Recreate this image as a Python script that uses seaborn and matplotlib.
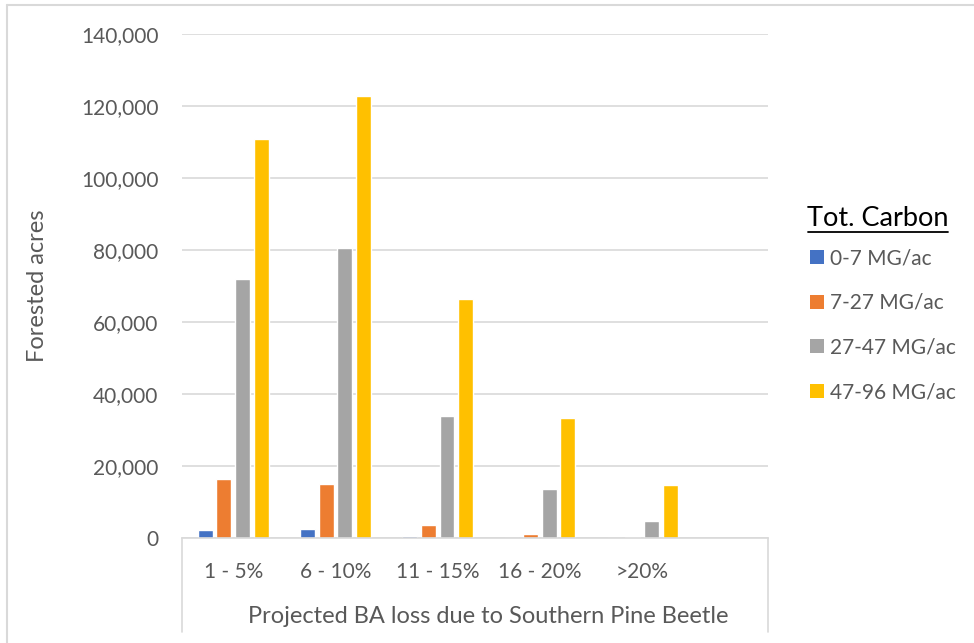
import pandas as pd
import matplotlib
matplotlib.use("Agg")
import matplotlib.pyplot as plt
import seaborn as sns
from matplotlib.lines import Line2D
from matplotlib.patches import Patch
from matplotlib.ticker import FuncFormatter

# data
loss_classes = ["1 - 5%", "6 - 10%", "11 - 15%", "16 - 20%", ">20%"]
carbon_classes = ["0-7 MG/ac", "7-27 MG/ac", "27-47 MG/ac", "47-96 MG/ac"]
acres_0_7 = [2200, 2400, 500, 0, 0]
acres_7_27 = [16300, 14900, 3700, 1200, 300]
acres_27_47 = [72000, 80500, 33800, 13500, 4800]
acres_47_96 = [110700, 122800, 66500, 33300, 14700]
colors = ["#4472C4", "#ED7D31", "#A5A5A5", "#FFC000"]

series = [acres_0_7, acres_7_27, acres_27_47, acres_47_96]
rows = []
for name, vals in zip(carbon_classes, series):
    for cat, v in zip(loss_classes, vals):
        rows.append({"loss": cat, "carbon": name, "acres": v})
df = pd.DataFrame(rows)

sns.set_style("white")
plt.rcParams["font.family"] = ["Lato", "DejaVu Sans"]
text_col = "#595959"
grid_col = "#D9D9D9"

fig = plt.figure(figsize=(9.74, 6.43), dpi=100)
ax = fig.add_axes([182 / 974, 105 / 643, 586 / 974, 504 / 643])

sns.barplot(data=df, x="loss", y="acres", hue="carbon", order=loss_classes,
            hue_order=carbon_classes, palette=colors, width=0.73, gap=0.2,
            saturation=1, legend=False, ax=ax)

ax.set_ylim(0, 140000)
ax.set_xlim(-0.5, 5.23)
ax.set_yticks(range(0, 140001, 20000))
ax.yaxis.set_major_formatter(FuncFormatter(lambda v, p: f"{int(v):,}"))
ax.grid(axis="y", color=grid_col, linewidth=1.2)
ax.set_axisbelow(True)
for s in ["left", "right", "top"]:
    ax.spines[s].set_visible(False)
ax.spines["bottom"].set_color(grid_col)
ax.spines["bottom"].set_linewidth(1.2)
ax.tick_params(axis="both", length=0, labelsize=15, colors=text_col)
ax.tick_params(axis="y", pad=17)
ax.tick_params(axis="x", pad=17)

ax.set_ylabel("Forested acres", fontsize=17, color=text_col, labelpad=24)
ax.set_xlabel("Projected BA loss due to Southern Pine Beetle", fontsize=17,
              color=text_col)
ax.xaxis.set_label_coords(0.522, -0.135)

# box around category labels
for xpos in [0, 1]:
    ax.add_line(Line2D([xpos, xpos], [0, -0.1865], transform=ax.transAxes,
                       color=grid_col, linewidth=1.2, clip_on=False))

# chart border
fig.add_artist(Line2D([7 / 974, 1], [1 - 5 / 643, 1 - 5 / 643],
                      transform=fig.transFigure, color=grid_col, linewidth=1.5))
fig.add_artist(Line2D([7 / 974, 7 / 974], [0, 1 - 5 / 643],
                      transform=fig.transFigure, color=grid_col, linewidth=1.5))

# legend
fig.text(807 / 974, 1 - 218 / 643, "Tot. Carbon", fontsize=19.5, color="black",
         va="center", ha="left")
fig.add_artist(Line2D([808 / 974, 948 / 974], [1 - 232 / 643, 1 - 232 / 643],
                      transform=fig.transFigure, color="black", linewidth=1.3))
handles = [Patch(facecolor=c, edgecolor="none") for c in colors]
leg = fig.legend(handles, carbon_classes, loc="upper left",
                 bbox_to_anchor=(802 / 974, 1 - 240 / 643), frameon=False,
                 fontsize=15, labelcolor=text_col, handlelength=0.65,
                 handleheight=0.65, handletextpad=0.3, labelspacing=1.18,
                 borderaxespad=0)

fig.savefig("out.png", dpi=100)
